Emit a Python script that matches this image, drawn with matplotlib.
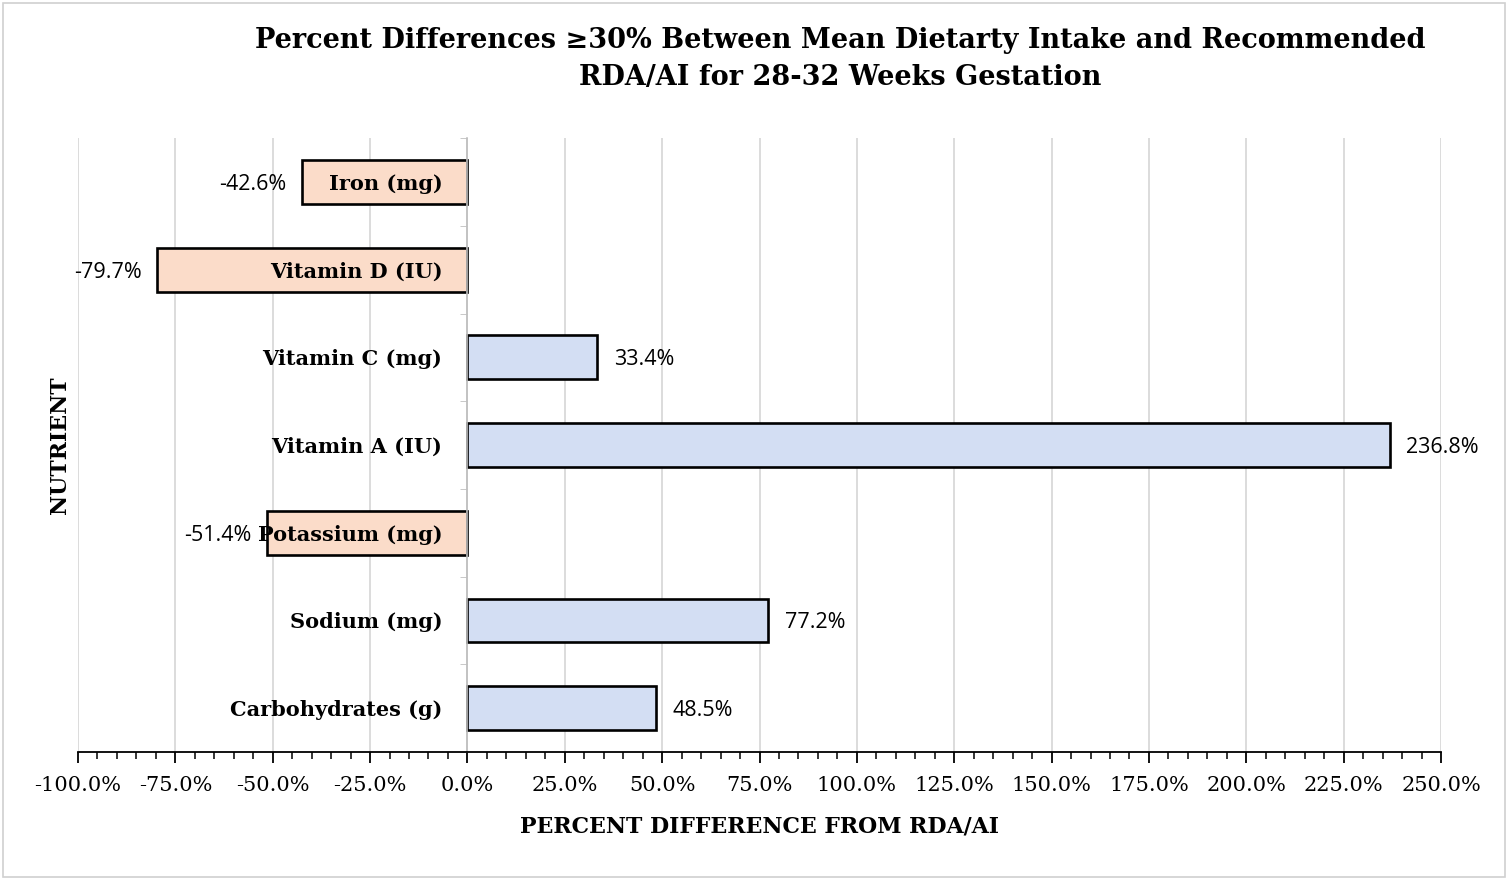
import numpy as np
import matplotlib
matplotlib.use("Agg")
import matplotlib.pyplot as plt
from matplotlib.ticker import MultipleLocator, FuncFormatter
from matplotlib.patches import Rectangle

# data, top to bottom as in the chart
nutrients = ["Iron (mg)", "Vitamin D (IU)", "Vitamin C (mg)", "Vitamin A (IU)",
             "Potassium (mg)", "Sodium (mg)", "Carbohydrates (g)"]
pct_diff = [-42.6, -79.7, 33.4, 236.8, -51.4, 77.2, 48.5]

title = ("Percent Differences \u226530% Between Mean Dietarty Intake and Recommended\n"
         "RDA/AI for 28-32 Weeks Gestation")

serif = ["DejaVu Serif", "DejaVu Sans"]
sans = ["Open Sans", "DejaVu Sans"]

neg_color = "#fbdcc9"
pos_color = "#d3def3"

fig = plt.figure(figsize=(15.08, 8.8), dpi=100)
ax = fig.add_axes([0.0517, 0.1455, 0.9039, 0.6975])

y = np.arange(len(nutrients))[::-1]
colors = [neg_color if v < 0 else pos_color for v in pct_diff]
ax.barh(y, pct_diff, height=0.5, color=colors, edgecolor="black", linewidth=1.9, zorder=2)

# value labels
for yi, v in zip(y, pct_diff):
    if v < 0:
        ax.annotate(f"{v:.1f}%", (v, yi), xytext=(-11, 0), textcoords="offset points",
                    ha="right", va="center_baseline", fontsize=15.5, family=sans, zorder=5)
    else:
        ax.annotate(f"{v:.1f}%", (v, yi), xytext=(12, 0), textcoords="offset points",
                    ha="left", va="center_baseline", fontsize=15.5, family=sans, zorder=5)

# category labels just left of zero
for yi, name in zip(y, nutrients):
    ax.annotate(name, (0, yi), xytext=(-18, 0), textcoords="offset points",
                ha="right", va="center_baseline", fontsize=15, fontweight="bold",
                family=serif, zorder=5)

ax.set_xlim(-100, 250)
ax.set_ylim(-0.5, len(nutrients) - 0.5)

xt = np.arange(-100, 251, 25)
ax.set_xticks(xt)
ax.xaxis.set_minor_locator(MultipleLocator(5))
ax.xaxis.set_major_formatter(FuncFormatter(lambda v, p: f"{v:.1f}%"))
for lab in ax.get_xticklabels():
    lab.set_family(serif)
    lab.set_fontsize(15)
ax.tick_params(axis="x", which="major", direction="out", length=8, width=1.3,
               color="black", pad=9)
ax.tick_params(axis="x", which="minor", direction="out", length=5, width=1.1, color="black")

for xv in xt:
    ax.axvline(xv, color="#d9d9d9", linewidth=1.3, zorder=0)

# y axis at zero with small gray marks between categories
ax.spines["left"].set_position(("data", 0))
ax.spines["left"].set_color("#bfbfbf")
ax.spines["left"].set_linewidth(1.2)
ax.set_yticks([])
ax.set_yticks(np.arange(-0.5, len(nutrients), 1), minor=True)
ax.tick_params(axis="y", which="minor", direction="out", length=5, color="#bfbfbf",
               labelleft=False)
ax.spines["top"].set_visible(False)
ax.spines["right"].set_visible(False)
ax.spines["bottom"].set_linewidth(1.3)

ax.set_xlabel("PERCENT DIFFERENCE FROM RDA/AI", fontsize=15.8, fontweight="bold",
              family=serif, labelpad=15)
fig.text(0.040, 0.494, "NUTRIENT", rotation=90, ha="center", va="center",
         fontsize=15.8, fontweight="bold", family=serif)

fig.text(0.557, 0.933, title, ha="center", va="center", fontsize=19.5,
         fontweight="bold", family=serif, linespacing=1.45)

fig.patches.append(Rectangle((0.002, 0.003), 0.996, 0.994, transform=fig.transFigure,
                             fill=False, edgecolor="#d0d0d0", linewidth=1.2))

fig.savefig("out.png", dpi=100)
